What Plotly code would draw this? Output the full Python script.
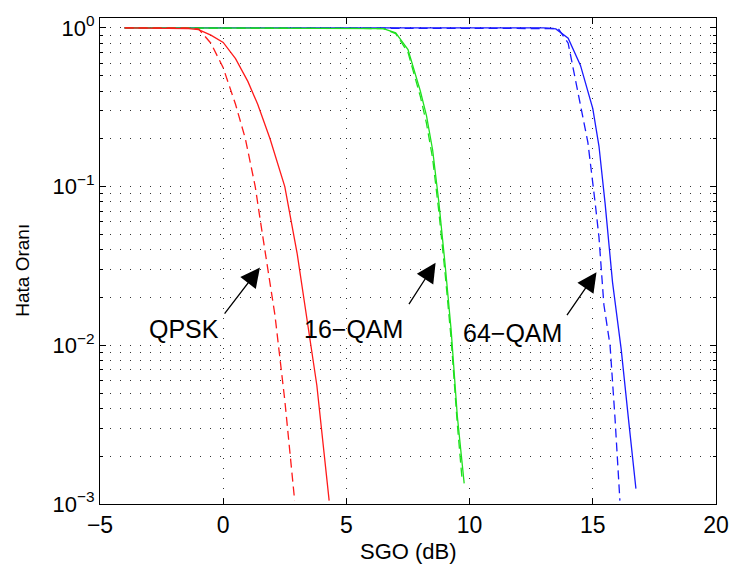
import plotly.graph_objects as go

# ---------------- data ----------------
qpsk_solid_x = [-4, -2, -1.4, -1, -0.5, 0, 0.5, 1, 1.4, 1.9, 2.5, 3.0, 3.3, 3.6, 3.8, 4.3]
qpsk_solid_y = [1.0, 0.999, 0.99, 0.975, 0.9, 0.81, 0.64, 0.46, 0.33, 0.2, 0.1, 0.038, 0.019, 0.0091, 0.0056, 0.00105]

qpsk_dash_x = [-4, -2, -1.5, -1, -0.5, 0, 0.5, 0.9, 1.3, 1.5, 1.8, 2.1, 2.5, 2.9]
qpsk_dash_y = [1.0, 1.0, 0.998, 0.985, 0.8, 0.56, 0.33, 0.2, 0.1, 0.062, 0.030, 0.0155, 0.0045, 0.00105]

qam16_solid_x = [-4, 5, 6, 6.5, 7, 7.5, 8, 8.25, 8.5, 8.75, 9, 9.25, 9.5, 9.78]
qam16_solid_y = [1, 1, 1, 0.99, 0.93, 0.73, 0.40, 0.28, 0.17, 0.08, 0.033, 0.0125, 0.0036, 0.00135]

qam16_dash_x = [-4, 5, 6, 6.5, 7, 7.5, 8, 8.25, 8.5, 8.75, 9, 9.25, 9.5, 9.7]
qam16_dash_y = [1, 1, 1, 0.99, 0.92, 0.70, 0.37, 0.25, 0.15, 0.07, 0.029, 0.011, 0.0032, 0.0014]

qam64_solid_x = [-4, 12, 13, 13.5, 14, 14.5, 15, 15.25, 15.5, 15.8, 16.15, 16.45, 16.75]
qam64_solid_y = [1, 1, 1, 0.985, 0.86, 0.58, 0.31, 0.18, 0.078, 0.025, 0.0095, 0.0034, 0.00125]

qam64_dash_x = [-4, 12, 13, 13.6, 14, 14.5, 14.8, 15.1, 15.25, 15.45, 15.7, 15.9, 16.1]
qam64_dash_y = [1, 1, 1, 0.99, 0.8, 0.33, 0.19, 0.078, 0.048, 0.018, 0.01, 0.0035, 0.00105]

x_ticks = [-5, 0, 5, 10, 15, 20]
y_ticks = [0.001, 0.01, 0.1, 1]
y_ticktext = ["10<sup>−3</sup>", "10<sup>−2</sup>", "10<sup>−1</sup>", "10<sup>0</sup>"]
y_minor = [m * 10.0 ** e for e in (-3, -2, -1) for m in range(2, 10)]

labels = ["QPSK", "16−QAM", "64−QAM"]
label_pos = [(-1.6, -1.90), (5.3, -1.90), (11.75, -1.92)]
arrow_tip = [(1.49, -1.51), (8.62, -1.48), (15.15, -1.54)]
arrow_tail = [(0.01, -1.81), (7.5, -1.75), (13.91, -1.82)]

FONT = "Liberation Sans, Arial, Helvetica, sans-serif"
RED, GREEN, BLUE = "#ff1a1a", "#1ee01e", "#1a1aff"
DASH = "9px,5px"

fig = go.Figure()
series = [
    (qam64_dash_x, qam64_dash_y, BLUE, DASH),
    (qam64_solid_x, qam64_solid_y, BLUE, "solid"),
    (qam16_dash_x, qam16_dash_y, GREEN, DASH),
    (qam16_solid_x, qam16_solid_y, GREEN, "solid"),
    (qpsk_dash_x, qpsk_dash_y, RED, DASH),
    (qpsk_solid_x, qpsk_solid_y, RED, "solid"),
]
for xs, ys, c, d in series:
    fig.add_trace(go.Scatter(x=xs, y=ys, mode="lines",
                             line=dict(color=c, width=1.3, dash=d),
                             showlegend=False, hoverinfo="skip"))

grid = dict(showgrid=True, gridcolor="#333333", gridwidth=1, griddash="1px,9px")

fig.update_xaxes(range=[-5, 20], tickvals=x_ticks, ticks="inside", ticklen=6,
                 tickcolor="black", showline=True, linecolor="black", linewidth=1.2,
                 mirror="ticks", zeroline=False,
                 tickfont=dict(family=FONT, size=23, color="black"), **grid)
fig.update_yaxes(type="log", range=[-3, 0.062], tickvals=y_ticks, ticktext=y_ticktext,
                 ticks="inside", ticklen=6, tickcolor="black", showline=True,
                 linecolor="black", linewidth=1.2, mirror="ticks", zeroline=False,
                 tickfont=dict(family=FONT, size=22, color="black"),
                 minor=dict(tickvals=y_minor, ticks="inside", ticklen=3, tickcolor="black",
                            showgrid=True, gridcolor="#333333", griddash="1px,9px"),
                 **grid)

anns = []
for t, (lx, ly), (tx, ty), (ax, ay) in zip(labels, label_pos, arrow_tip, arrow_tail):
    anns.append(dict(x=lx, y=ly, xref="x", yref="y", text=t, showarrow=False,
                     font=dict(family=FONT, size=25, color="black")))
    anns.append(dict(x=tx, y=ty, xref="x", yref="y", ax=ax, ay=ay, axref="x", ayref="y",
                     text="", showarrow=True, arrowhead=2, arrowsize=3, arrowwidth=1.3,
                     arrowcolor="black"))
anns.append(dict(x=0.5, y=-0.098, xref="paper", yref="paper", text="SGO (dB)",
                 xanchor="center", yanchor="middle", showarrow=False,
                 font=dict(family=FONT, size=22, color="black")))
anns.append(dict(x=-0.125, y=0.48, xref="paper", yref="paper", text="Hata Oranı",
                 xanchor="center", yanchor="middle", textangle=-90, showarrow=False,
                 font=dict(family=FONT, size=19, color="black")))

fig.update_layout(width=741, height=573, margin=dict(l=100, r=17, t=12, b=69),
                  paper_bgcolor="white", plot_bgcolor="white", annotations=anns,
                  font=dict(family=FONT))
fig.write_html("out.html")
